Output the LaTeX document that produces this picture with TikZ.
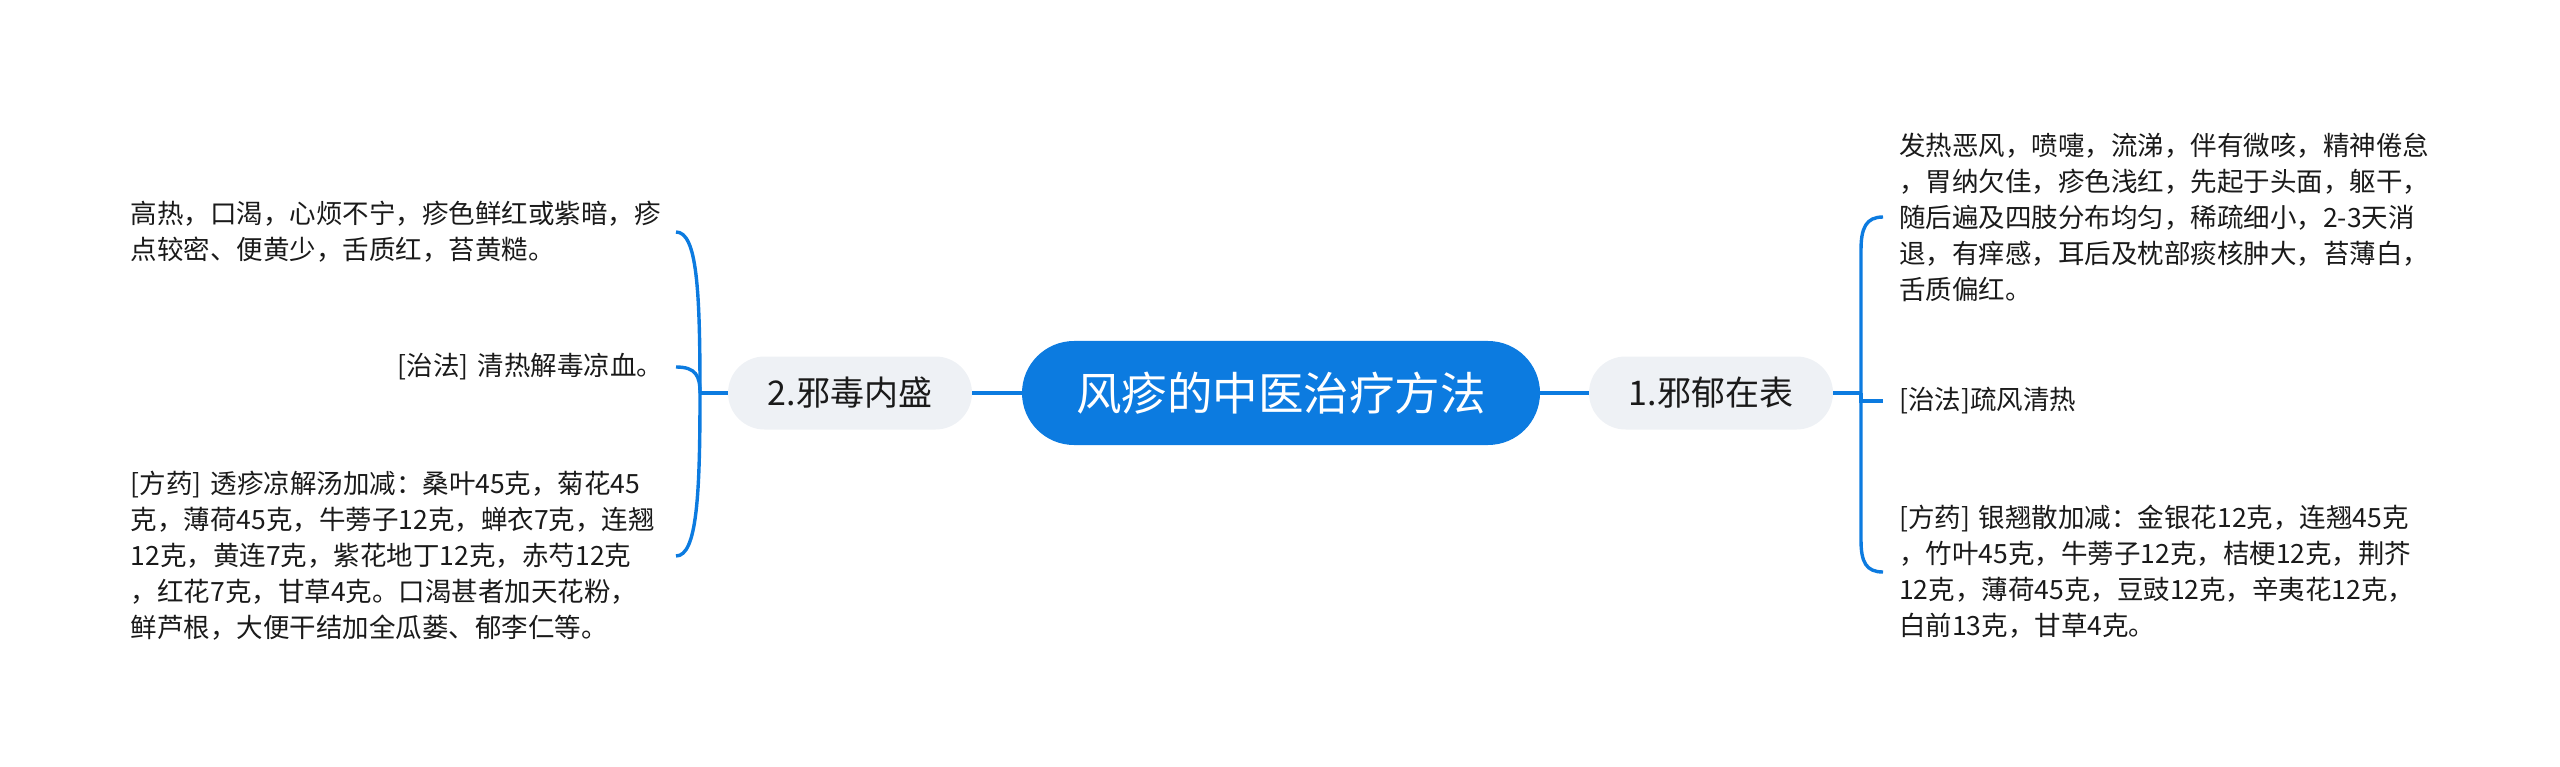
\documentclass[tikz,border=0pt]{standalone}
\usepackage{fontspec}
\setmainfont{Noto Sans CJK SC}
\definecolor{mblue}{HTML}{0C7BE0}
\definecolor{mgray}{HTML}{EEF1F5}
\definecolor{mtext}{HTML}{1A1A1A}
\begin{document}
\begin{tikzpicture}[x=1pt,y=-1pt,
  conn/.style={draw=mblue,line width=3.4pt},
  root/.style={fill=mblue,text=white,rounded corners=52pt,minimum width=518pt,minimum height=104pt,inner sep=0pt,font=\fontsize{45.5}{52}\selectfont},
  branch/.style={fill=mgray,text=mtext,rounded corners=36.5pt,minimum width=244pt,minimum height=73pt,inner sep=0pt,font=\fontsize{34}{40}\selectfont},
  leafL/.style={anchor=east,align=left,text=mtext,inner xsep=8pt,inner ysep=0pt,font=\fontsize{26.5}{36}\selectfont},
  leafR/.style={anchor=west,align=left,text=mtext,inner xsep=16pt,inner ysep=0pt,font=\fontsize{26.5}{36}\selectfont}]
\useasboundingbox (0,0) rectangle (2560,767);
\node[root] (c) at (1281,393) {风疹的中医治疗方法};
\node[branch] (n1) at (1711,393) {1.邪郁在表};
\node[branch] (n2) at (850,393) {2.邪毒内盛};
\draw[conn] (c.east) -- (n1.west);
\draw[conn] (c.west) -- (n2.east);
\coordinate (jr) at (1861,393);
\coordinate (jl) at (700,393);
\draw[conn] (n1.east) -- (jr);
\draw[conn] (n2.west) -- (jl);
% right leaves
\node[leafR,text width=580pt] (r1) at (1883,217) {发热恶风，喷嚏，流涕，伴有微咳，精神倦怠\\，胃纳欠佳，疹色浅红，先起于头面，躯干，\\随后遍及四肢分布均匀，稀疏细小，2-3天消\\退，有痒感，耳后及枕部痰核肿大，苔薄白，\\舌质偏红。};
\node[leafR,text width=300pt] (r2) at (1883,401) {[治法]疏风清热};
\node[leafR,text width=580pt] (r3) at (1883,572) {[方药] 银翘散加减：金银花12克，连翘45克\\，竹叶45克，牛蒡子12克，桔梗12克，荆芥\\12克，薄荷45克，豆豉12克，辛夷花12克，\\白前13克，甘草4克。};
\draw[conn] (jr) -- (1861,250) .. controls (1861,228) and (1866,217) .. (r1.west);
\draw[conn] (jr) -- (1861,540) .. controls (1861,562) and (1866,572) .. (r3.west);
\draw[conn] (jr) |- (r2.west);
% left leaves
\node[leafL,text width=537pt] (l1) at (676,232) {高热，口渴，心烦不宁，疹色鲜红或紫暗，疹\\点较密、便黄少，舌质红，苔黄糙。};
\node[leafL,text width=270pt] (l2) at (676,367) {[治法] 清热解毒凉血。};
\node[leafL,text width=537pt] (l3) at (676,556) {[方药] 透疹凉解汤加减：桑叶45克，菊花45\\克，薄荷45克，牛蒡子12克，蝉衣7克，连翘\\12克，黄连7克，紫花地丁12克，赤芍12克\\，红花7克，甘草4克。口渴甚者加天花粉，\\鲜芦根，大便干结加全瓜蒌、郁李仁等。};
\draw[conn] (jl) .. controls (700,290) and (697,232) .. (l1.east);
\draw[conn] (jl) .. controls (700,376) and (696,367) .. (l2.east);
\draw[conn] (jl) .. controls (700,495) and (697,556) .. (l3.east);
\end{tikzpicture}
\end{document}
